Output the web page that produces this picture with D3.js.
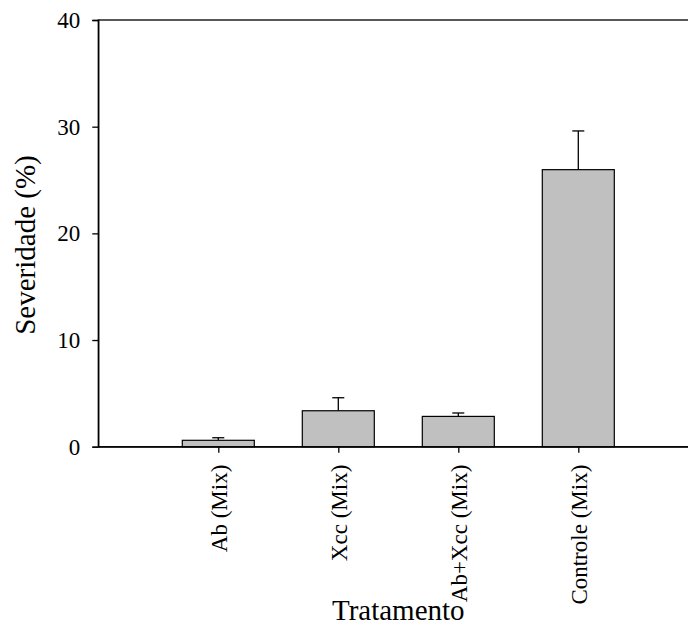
<!DOCTYPE html>
<html>
<head>
<meta charset="utf-8">
<script src="https://cdn.jsdelivr.net/npm/d3@7"></script>
<style>
  body { margin: 0; background: #fff; }
  svg { display: block; font-family: "Liberation Serif", "Times New Roman", serif; }
</style>
</head>
<body>
<div id="chart"></div>
<script>
// values
const categories = ["Ab (Mix)", "Xcc (Mix)", "Ab+Xcc (Mix)", "Controle (Mix)"];
const means = [0.6, 3.37, 2.84, 25.97];
const errors = [0.24, 1.22, 0.32, 3.63];
const yTicks = [0, 10, 20, 30, 40];

const WIDTH = 688, HEIGHT = 630;
const MARGIN = {top: 20, left: 98.3, bottom: 446.7, right: 698.3}; // plot box edges (right is off canvas)

const data = categories.map((c, i) => ({cat: c, mean: means[i], err: errors[i]}));

var x = d3.scalePoint()
        .domain(categories)
        .range([MARGIN.left, MARGIN.right])
        .padding(1); // one empty step each side, like the original

var y = d3.scaleLinear()
        .domain([0, 40])
        .range([MARGIN.bottom, MARGIN.top]);

const barW = x.step() * 0.6;

const svg = d3.select("#chart")
        .append("svg")
        .attr("width", WIDTH)
        .attr("height", HEIGHT);

// frame (top + right edge, right gets clipped by the canvas)
svg.append("rect")
        .attr("x", MARGIN.left)
        .attr("y", MARGIN.top)
        .attr("width", MARGIN.right - MARGIN.left)
        .attr("height", MARGIN.bottom - MARGIN.top)
        .attr("fill", "none")
        .attr("stroke", "#000")
        .attr("stroke-width", 1.3);

// error bars (up only)
const eb = svg.append("g").attr("class", "errbars");
eb.selectAll("line.stem")
        .data(data)
        .enter()
        .append("line")
        .attr("class", "stem")
        .attr("x1", d => x(d.cat))
        .attr("x2", d => x(d.cat))
        .attr("y1", d => y(d.mean))
        .attr("y2", d => y(d.mean + d.err))
        .attr("stroke", "#000")
        .attr("stroke-width", 1.3);
eb.selectAll("line.cap")
        .data(data)
        .enter()
        .append("line")
        .attr("class", "cap")
        .attr("x1", d => x(d.cat) - 6)
        .attr("x2", d => x(d.cat) + 6)
        .attr("y1", d => y(d.mean + d.err))
        .attr("y2", d => y(d.mean + d.err))
        .attr("stroke", "#000")
        .attr("stroke-width", 1.3);

// bars
svg.selectAll(".bar")
        .data(data)
        .enter()
        .append("rect")
        .classed("bar", true)
        .attr("x", d => x(d.cat) - barW / 2)
        .attr("y", d => y(d.mean))
        .attr("width", barW)
        .attr("height", d => y(0) - y(d.mean))
        .attr("fill", "#c0c0c0")
        .attr("stroke", "#000")
        .attr("stroke-width", 1.2);

// y axis
const yAxis = d3.axisLeft(y).tickValues(yTicks).tickSize(6).tickPadding(12);
const gy = svg.append("g")
        .attr("transform", `translate(${MARGIN.left},0)`)
        .call(yAxis);
gy.select(".domain").attr("stroke-width", 1.3);
gy.selectAll(".tick line").attr("stroke-width", 1.3);
gy.selectAll(".tick text")
        .attr("font-family", "Liberation Serif")
        .attr("font-size", 23)
        .attr("fill", "#000");

// x axis
const xAxis = d3.axisBottom(x).tickSize(6).tickSizeOuter(0);
const gx = svg.append("g")
        .attr("transform", `translate(0,${MARGIN.bottom})`)
        .call(xAxis);
gx.select(".domain").attr("stroke-width", 1.3);
gx.selectAll(".tick line").attr("stroke-width", 1.3);
gx.selectAll(".tick text")
        .attr("font-family", "Liberation Serif")
        .attr("font-size", 23)
        .attr("fill", "#000")
        .attr("transform", "rotate(-90)")
        .attr("text-anchor", "end")
        .attr("x", -18)
        .attr("y", 0)
        .attr("dy", "0.35em");

// axis titles
svg.append("text")
        .attr("x", (MARGIN.left + MARGIN.right) / 2)
        .attr("y", 620)
        .attr("text-anchor", "middle")
        .attr("font-size", 29)
        .text("Tratamento");

svg.append("text")
        .attr("transform", "translate(35,245) rotate(-90)")
        .attr("text-anchor", "middle")
        .attr("font-size", 29)
        .text("Severidade (%)");
</script>
</body>
</html>
